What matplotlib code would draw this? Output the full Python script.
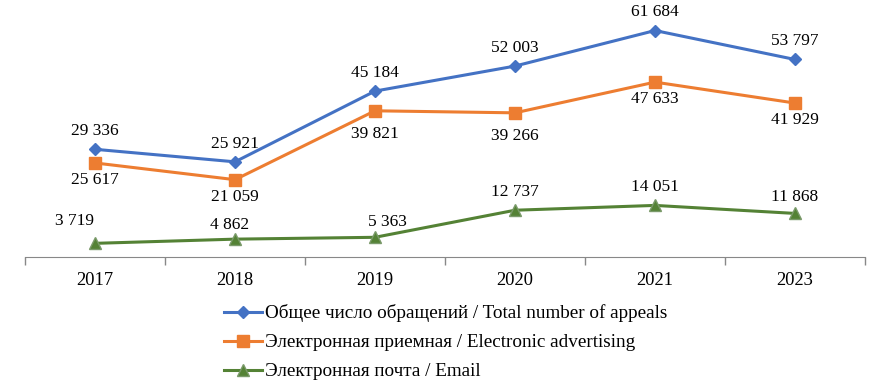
import matplotlib.pyplot as plt
import numpy as np

# data
years = ['2017', '2018', '2019', '2020', '2021', '2023']
total = [29336, 25921, 45184, 52003, 61684, 53797]
electronic = [25617, 21059, 39821, 39266, 47633, 41929]
email = [3719, 4862, 5363, 12737, 14051, 11868]

labels = ['Общее число обращений / Total number of appeals',
          'Электронная приемная / Electronic advertising',
          'Электронная почта / Email']


def fmt(v):
    return '{:,}'.format(v).replace(',', ' ')


plt.rcParams['font.family'] = ['Liberation Serif', 'DejaVu Serif']

fig = plt.figure(figsize=(8.79, 3.80), dpi=100)
ax = fig.add_axes([0.0284, 0.3237, 0.9557, 0.6763])

x = np.arange(len(years))
ax.plot(x, total, color='#4472C4', lw=2.2, marker='D', ms=6, label=labels[0])
ax.plot(x, electronic, color='#ED7D31', lw=2.2, marker='s', ms=8, label=labels[1])
ax.plot(x, email, color='#548235', lw=2.2, marker='^', ms=8,
        markeredgecolor='#7a9a6a', label=labels[2])

fs = 12.5
# value labels (offsets in points)
for i, v in enumerate(total):
    ax.annotate(fmt(v), (x[i], v), xytext=(0, 13), textcoords='offset points',
                ha='center', va='center', fontsize=fs)
for i, v in enumerate(electronic):
    dy = -17 if i in (2, 3) else -12.5
    ax.annotate(fmt(v), (x[i], v), xytext=(0, dy), textcoords='offset points',
                ha='center', va='center', fontsize=fs)
green_off = [(-15, 16), (-4, 10), (9, 11), (0, 13), (0, 13), (0, 12)]
for i, v in enumerate(email):
    ax.annotate(fmt(v), (x[i], v), xytext=green_off[i], textcoords='offset points',
                ha='center', va='center', fontsize=fs)

ax.set_xlim(-0.5, len(years) - 0.5)
ax.set_ylim(0, 70000)
ax.set_xticks(x)
ax.set_xticklabels(years, fontsize=13.3)
ax.set_xticks(np.arange(-0.5, len(years)), minor=True)
ax.tick_params(axis='x', which='major', length=0, pad=10.5)
ax.tick_params(axis='x', which='minor', length=6, color='#888888', width=1)
ax.set_yticks([])
for s in ['top', 'left', 'right']:
    ax.spines[s].set_visible(False)
ax.spines['bottom'].set_color('#888888')

fig.legend(loc='upper center', bbox_to_anchor=(0.507, 0.234), frameon=False,
           fontsize=13.8, labelspacing=0.6, handlelength=1.95,
           handletextpad=0.15, borderaxespad=0.3)

fig.savefig('out.png', dpi=100)
